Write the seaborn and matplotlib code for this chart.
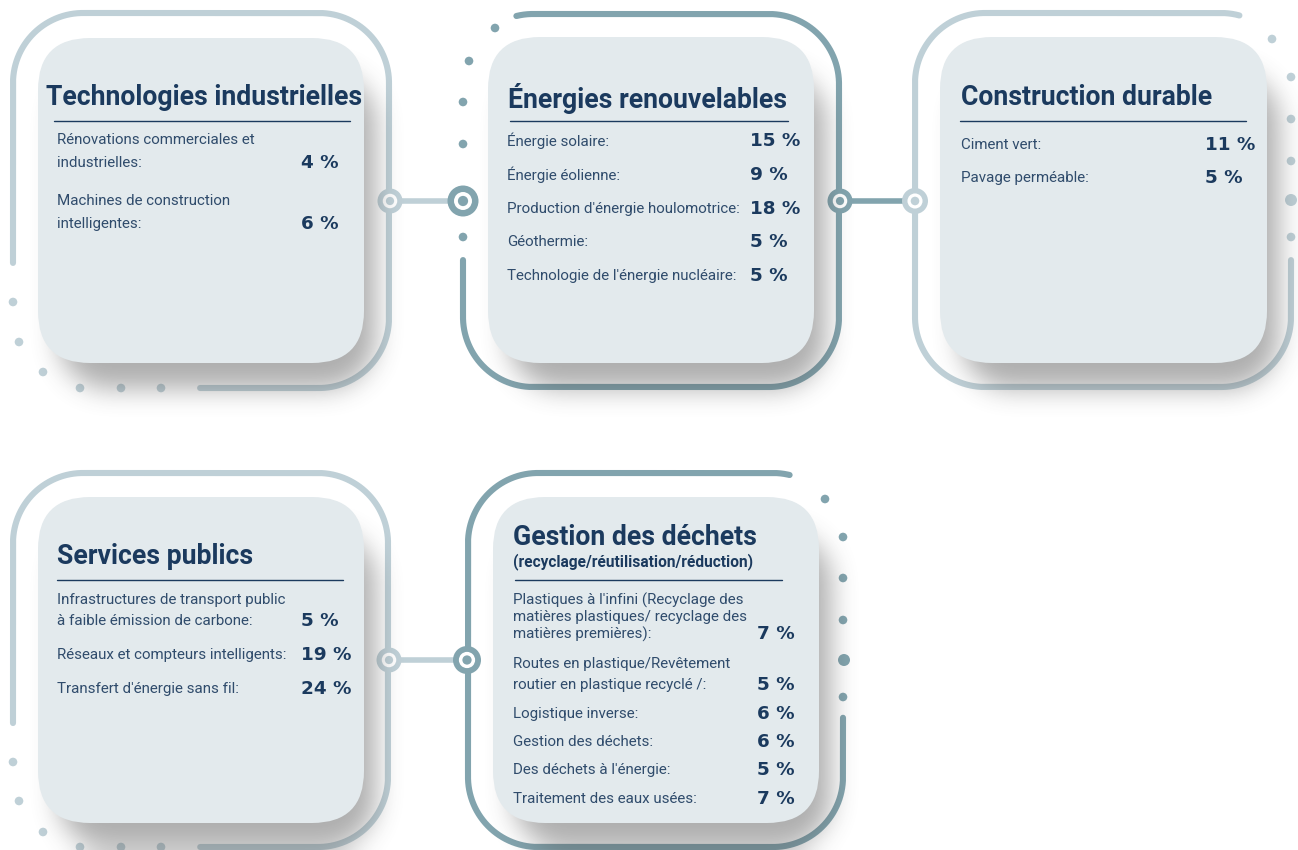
import numpy as np
import matplotlib
matplotlib.use("Agg")
import matplotlib.pyplot as plt
import seaborn as sns
from matplotlib.patches import FancyBboxPatch, Circle

# ---------------- data ----------------
categories = ["Technologies industrielles", "Énergies renouvelables", "Construction durable",
              "Services publics", "Gestion des déchets"]
subtitles = ["", "", "", "", "(recyclage/réutilisation/réduction)"]

tech_labels = ["Rénovations commerciales et\nindustrielles:", "Machines de construction\nintelligentes:"]
tech_values = [4, 6]
energy_labels = ["Énergie solaire:", "Énergie éolienne:", "Production d'énergie houlomotrice:",
                 "Géothermie:", "Technologie de l'énergie nucléaire:"]
energy_values = [15, 9, 18, 5, 5]
constr_labels = ["Ciment vert:", "Pavage perméable:"]
constr_values = [11, 5]
public_labels = ["Infrastructures de transport public\nà faible émission de carbone:",
                 "Réseaux et compteurs intelligents:", "Transfert d'énergie sans fil:"]
public_values = [5, 19, 24]
waste_labels = ["Plastiques à l'infini (Recyclage des\nmatières plastiques/ recyclage des\nmatières premières):",
                "Routes en plastique/Revêtement\nroutier en plastique recyclé /:",
                "Logistique inverse:", "Gestion des déchets:", "Des déchets à l'énergie:",
                "Traitement des eaux usées:"]
waste_values = [7, 5, 6, 6, 5, 7]

all_labels = [tech_labels, energy_labels, constr_labels, public_labels, waste_labels]
all_values = [tech_values, energy_values, constr_values, public_values, waste_values]

# ---------------- style ----------------
sns.set_theme(style="white")
plt.rcParams['font.family'] = ['Roboto', 'DejaVu Sans']

LIGHT = "#bfd0d7"
DARK = "#82a4ae"
CARD = "#e3eaed"
TITLE_C = "#1b3a5e"
LABEL_C = "#304c6c"

W, H = 1298, 850
fig = plt.figure(figsize=(12.98, 8.5), dpi=100)
ax = fig.add_axes([0, 0, 1, 1])
ax.set_xlim(0, W)
ax.set_ylim(H, 0)
ax.axis('off')

# ---------------- layout ----------------
layout = [
    dict(frame=(13, 13, 389, 388), fcol=LIGHT, seg=((13, 263), (200, 388)),
         card=(38, 38, 364, 363), title=(46, 105), uline=(54, 350, 121),
         ix=57, vx=301, ys=[163, 224], gaps=[23, 23],
         dots=[(13, 302, 4.3), (19, 342, 4.3), (43, 372, 4.3), (80, 388, 4.3), (121, 388, 4.3), (161, 388, 4.3)], dcol=LIGHT),
    dict(frame=(463, 14, 839, 387), fcol=DARK, seg=((515, 14), (463, 260)),
         card=(488, 37, 814, 363), title=(508, 108), uline=(510, 788, 121),
         ix=507, vx=750, ys=[141, 175, 209, 242, 276], gaps=[0] * 5,
         dots=[(495, 28, 4.3), (469, 61, 4.3), (463, 102, 4.3), (463, 144, 4.3), (463, 237, 4.3)], dcol=DARK),
    dict(frame=(915, 13, 1291, 387), fcol=LIGHT, seg=((1291, 260), (1240, 13)),
         card=(940, 37, 1267, 363), title=(961, 105), uline=(960, 1246, 121),
         ix=961, vx=1205, ys=[145, 178], gaps=[0, 0],
         dots=[(1272, 39, 4.3), (1291, 77, 4.3), (1291, 119, 4.3), (1291, 161, 4.3), (1291, 200, 6.0), (1291, 237, 4.3)], dcol=LIGHT),
    dict(frame=(13, 473, 388, 847), fcol=LIGHT, seg=((13, 723), (200, 847)),
         card=(38, 497, 364, 823), title=(57, 564), uline=(57, 343, 580),
         ix=57, vx=301, ys=[621, 655, 689], gaps=[21, 0, 0],
         dots=[(13, 762, 4.3), (19, 801, 4.3), (43, 832, 4.3), (80, 847, 4.3), (121, 847, 4.3), (161, 847, 4.3)], dcol=LIGHT),
    dict(frame=(468, 473, 843, 847), fcol=DARK, seg=((843, 718), (790, 473)),
         card=(493, 497, 819, 823), title=(513, 545), sub=(513, 566), uline=(515, 782, 580),
         ix=513, vx=757, ys=[634, 685, 714, 742, 770, 799], gaps=[17, 21, 0, 0, 0, 0],
         dots=[(825, 499, 4.3), (843, 537, 4.3), (843, 578, 4.3), (843, 620, 4.3), (844, 660, 6.0), (843, 697, 4.3)], dcol=DARK),
]

connectors = [  # lines between panels
    dict(x0=390, x1=463, y=201, col=LIGHT),
    dict(x0=840, x1=915, y=201, col=DARK),
    dict(x0=389, x1=467, y=660, col=LIGHT),
]
rings = [(390, 201, 12.5, LIGHT), (463, 201, 15.5, DARK), (840, 201, 12.5, DARK),
         (915, 201, 13, LIGHT), (389, 660, 12.5, LIGHT), (467, 660, 14, DARK)]

FRAME_R = 70
CARD_R = 52


def rr_loop(x0, y0, x1, y1, r, n=60):
    ym = (y0 + y1) / 2
    pts = []
    L = 400
    pts.append(np.c_[np.full(L, x0), np.linspace(ym, y0 + r, L)])
    t = np.radians(np.linspace(180, 270, n))
    pts.append(np.c_[x0 + r + r * np.cos(t), y0 + r + r * np.sin(t)])
    pts.append(np.c_[np.linspace(x0 + r, x1 - r, L), np.full(L, y0)])
    t = np.radians(np.linspace(270, 360, n))
    pts.append(np.c_[x1 - r + r * np.cos(t), y0 + r + r * np.sin(t)])
    pts.append(np.c_[np.full(L, x1), np.linspace(y0 + r, y1 - r, L)])
    t = np.radians(np.linspace(0, 90, n))
    pts.append(np.c_[x1 - r + r * np.cos(t), y1 - r + r * np.sin(t)])
    pts.append(np.c_[np.linspace(x1 - r, x0 + r, L), np.full(L, y1)])
    t = np.radians(np.linspace(90, 180, n))
    pts.append(np.c_[x0 + r + r * np.cos(t), y1 - r + r * np.sin(t)])
    pts.append(np.c_[np.full(L, x0), np.linspace(y1 - r, ym, L)])
    return np.vstack(pts)


def frame_segment(box, r, p0, p1):
    P = rr_loop(*box, r)
    i0 = np.argmin(np.hypot(P[:, 0] - p0[0], P[:, 1] - p0[1]))
    i1 = np.argmin(np.hypot(P[:, 0] - p1[0], P[:, 1] - p1[1]))
    if i1 >= i0:
        return P[i0:i1 + 1]
    return np.vstack([P[i0:], P[:i1 + 1]])


# ---------------- frames, connectors ----------------
for lay in layout:
    seg = frame_segment(lay['frame'], FRAME_R, *lay['seg'])
    ax.plot(seg[:, 0], seg[:, 1], color=lay['fcol'], lw=4.4, solid_capstyle='round', zorder=2)
    for (dx, dy, dr) in lay['dots']:
        ax.add_patch(Circle((dx, dy), dr, color=lay['dcol'], lw=0, zorder=2))

for c in connectors:
    ax.plot([c['x0'], c['x1']], [c['y'], c['y']], color=c['col'], lw=4.0, solid_capstyle='butt', zorder=2)
for (cx, cy, rr, col) in rings:
    ax.add_patch(Circle((cx, cy), rr, color=col, lw=0, zorder=3))
    ax.add_patch(Circle((cx, cy), rr * 0.58, color='white', lw=0, zorder=3.1))
    ax.add_patch(Circle((cx, cy), rr * 0.33, color=col, lw=0, zorder=3.2))

# ---------------- soft shadow (blurred image) ----------------
yy, xx = np.mgrid[0:H, 0:W] + 0.5


def rr_mask(x0, y0, x1, y1, r):
    cx, cy = (x0 + x1) / 2, (y0 + y1) / 2
    hw, hh = (x1 - x0) / 2 - r, (y1 - y0) / 2 - r
    dx = np.maximum(np.abs(xx - cx) - hw, 0)
    dy = np.maximum(np.abs(yy - cy) - hh, 0)
    return (np.hypot(dx, dy) <= r).astype(float)


def box1d(a, r, axis):
    a = np.moveaxis(a, axis, -1)
    p = np.pad(a, [(0, 0)] * (a.ndim - 1) + [(r + 1, r)], mode='edge')
    c = np.cumsum(p, axis=-1)
    out = (c[..., 2 * r + 1:] - c[..., :-2 * r - 1]) / (2 * r + 1)
    return np.moveaxis(out, -1, axis)


mask = np.zeros((H, W))
for lay in layout:
    x0, y0, x1, y1 = lay['card']
    mask = np.maximum(mask, rr_mask(x0 + 20, y0 + 34, x1 + 12, y1 + 26, CARD_R))
blur = mask
for _ in range(3):
    blur = box1d(box1d(blur, 12, 0), 12, 1)
shadow = np.zeros((H, W, 4))
shadow[..., :3] = 0.3
shadow[..., 3] = 0.45 * blur
ax.imshow(shadow, extent=[0, W, H, 0], zorder=4, interpolation='bilinear')
ax.set_xlim(0, W)
ax.set_ylim(H, 0)

# ---------------- cards and text ----------------
for k, lay in enumerate(layout):
    x0, y0, x1, y1 = lay['card']
    ax.add_patch(FancyBboxPatch((x0, y0), x1 - x0, y1 - y0,
                                boxstyle=f"round,pad=0,rounding_size={CARD_R}",
                                fc=CARD, ec='none', zorder=5))
    ax.text(lay['title'][0], lay['title'][1], categories[k], fontsize=19.2, fontweight='bold',
            color=TITLE_C, ha='left', va='baseline', zorder=6)
    if subtitles[k]:
        ax.text(lay['sub'][0], lay['sub'][1], subtitles[k], fontsize=11.2, fontweight='bold',
                color=TITLE_C, ha='left', va='baseline', zorder=6)
    ux0, ux1, uy = lay['uline']
    ax.plot([ux0, ux1], [uy, uy], color=TITLE_C, lw=1.0, zorder=6)
    for lab, val, yl, gap in zip(all_labels[k], all_values[k], lay['ys'], lay['gaps']):
        lines = lab.split("\n")
        n = len(lines)
        for j, line in enumerate(lines):
            ax.text(lay['ix'], yl - (n - 1 - j) * gap, line, fontsize=10.9, color=LABEL_C,
                    ha='left', va='center', zorder=6)
        ax.text(lay['vx'], yl, f"{val} %", fontsize=13.2, fontweight='bold', color=TITLE_C,
                family=['DejaVu Sans'], ha='left', va='center', zorder=6)

fig.savefig("out.png", dpi=100, facecolor='white')
